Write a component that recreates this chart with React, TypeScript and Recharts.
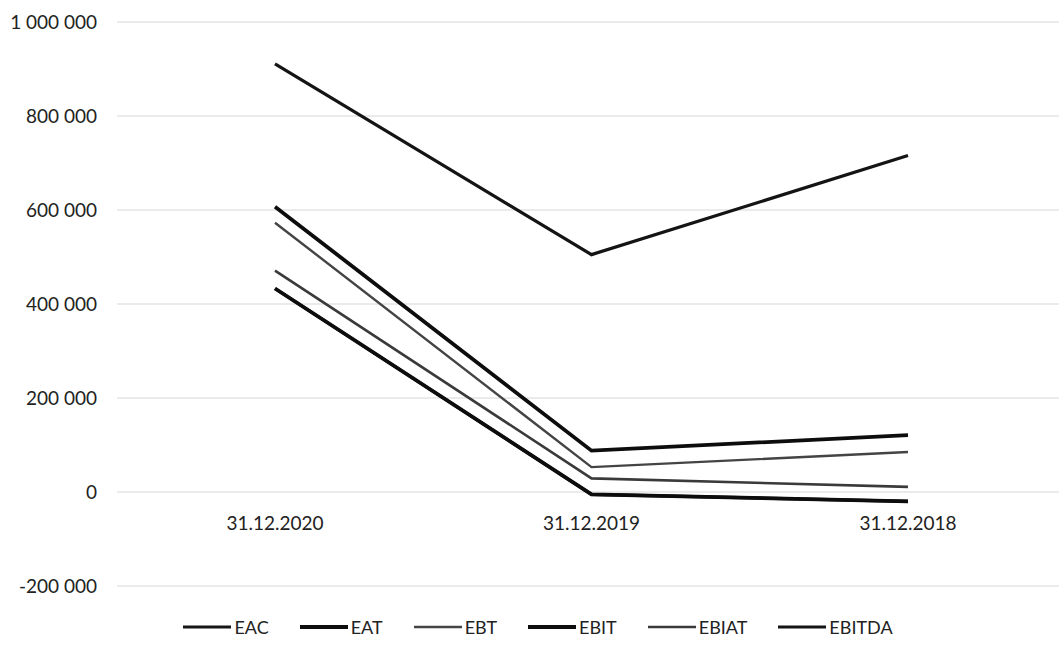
import React from "react";
import { CartesianGrid, Legend, Line, LineChart, XAxis, YAxis } from "recharts";

const dates = ["31.12.2020", "31.12.2019", "31.12.2018"];
const eac = [433000, -5000, -20000];
const eat = [433000, -5000, -20000];
const ebt = [573000, 53000, 85000];
const ebit = [607000, 88000, 121000];
const ebiat = [471000, 29000, 11000];
const ebitda = [911000, 505000, 716000];
const yTicks = [-200000, 0, 200000, 400000, 600000, 800000, 1000000];

const data = dates.map((d, i) => ({
  date: d,
  EAC: eac[i],
  EAT: eat[i],
  EBT: ebt[i],
  EBIT: ebit[i],
  EBIAT: ebiat[i],
  EBITDA: ebitda[i],
}));

const series = [
  { key: "EAC", color: "#161616", width: 3.2 },
  { key: "EAT", color: "#0d0d0d", width: 3.8 },
  { key: "EBT", color: "#444", width: 2.4 },
  { key: "EBIT", color: "#0d0d0d", width: 3.8 },
  { key: "EBIAT", color: "#3a3a3a", width: 2.6 },
  { key: "EBITDA", color: "#141414", width: 3.2 },
];

const font = "Lato, 'Open Sans', sans-serif";

const fmt = (v: number) => v.toLocaleString("en-US").replace(/,/g, " ");

const DateTick = (props: any) => {
  const { x, y, payload } = props;
  return (
    <text
      x={x}
      y={y}
      dy={-64}
      textAnchor="middle"
      fill="#222"
      fontSize={19}
      fontFamily={font}
    >
      {payload.value}
    </text>
  );
};

// legend drawn in series order (recharts sorts its payload by name)
const LegendBox = () => (
  <div
    style={{
      height: 42,
      display: "flex",
      justifyContent: "center",
      alignItems: "center",
      paddingLeft: 10,
      gap: 31,
      fontFamily: font,
      fontSize: 18,
      color: "#222",
    }}
  >
    {series.map((s) => (
      <div key={s.key} style={{ display: "flex", alignItems: "center" }}>
        <svg width={48} height={10}>
          <line
            x1={0}
            y1={5}
            x2={48}
            y2={5}
            stroke={s.color}
            strokeWidth={s.width}
          />
        </svg>
        <span style={{ marginLeft: 3 }}>{s.key}</span>
      </div>
    ))}
  </div>
);

export default function App() {
  return (
    <div
      style={{
        position: "absolute",
        left: 0,
        top: 0,
        width: 1059,
        height: 648,
        overflow: "hidden",
        background: "#fff",
      }}
    >
      <LineChart
        width={1080}
        height={648}
        data={data}
        margin={{ top: 22, right: 14, left: 0, bottom: 0 }}
      >
        <CartesianGrid vertical={false} stroke="#d6d6d6" />
        <XAxis
          dataKey="date"
          axisLine={false}
          tickLine={false}
          height={20}
          tick={<DateTick />}
          interval={0}
          padding={{ left: 158, right: 158 }}
        />
        <YAxis
          width={117}
          domain={[-200000, 1000000]}
          ticks={yTicks}
          axisLine={false}
          tickLine={false}
          tickMargin={14}
          tickFormatter={fmt}
          tick={{ fill: "#222", fontSize: 19, fontFamily: font }}
        />
        <Legend content={<LegendBox />} />
        {series.map((s) => (
          <Line
            key={s.key}
            type="linear"
            dataKey={s.key}
            stroke={s.color}
            strokeWidth={s.width}
            dot={false}
            isAnimationActive={false}
          />
        ))}
      </LineChart>
    </div>
  );
}
